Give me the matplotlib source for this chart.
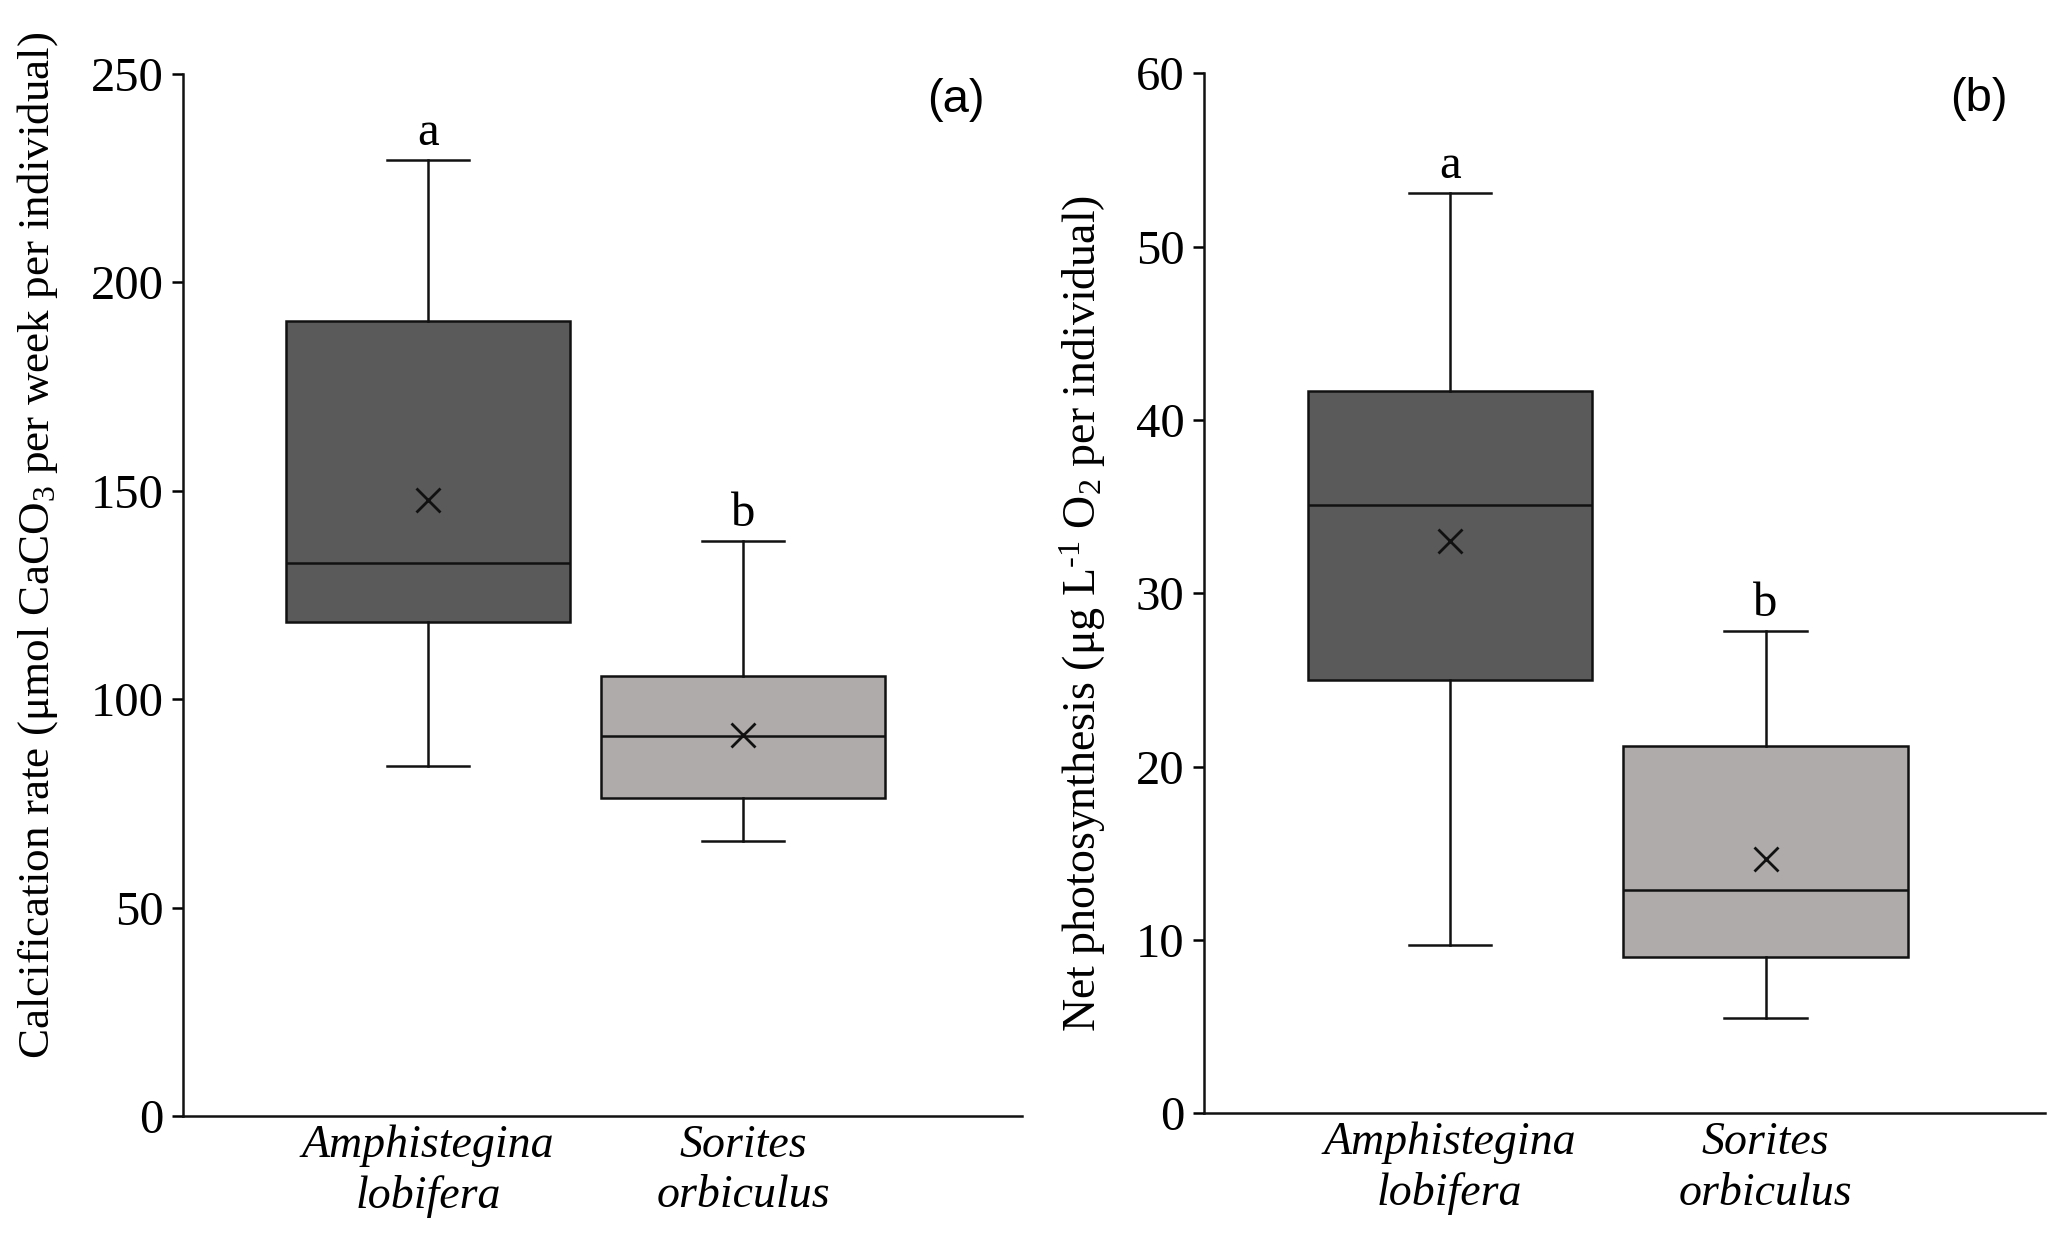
import matplotlib
matplotlib.use("Agg")
import matplotlib.pyplot as plt

plt.rcParams['font.family'] = ['Liberation Serif', 'DejaVu Serif']
plt.rcParams['mathtext.fontset'] = 'custom'
plt.rcParams['mathtext.rm'] = 'Liberation Serif'
plt.rcParams['mathtext.it'] = 'Liberation Serif:italic'

species = ["Amphistegina\nlobifera", "Sorites\norbiculus"]
box_colors = ["#5a5a5a", "#aeabaa"]
sig_letters = ["a", "b"]

# panel (a): calcification rate
calc_whislo = [83.9, 65.9]
calc_q1 = [118.5, 76.3]
calc_med = [132.7, 91.1]
calc_q3 = [190.8, 105.6]
calc_whishi = [229.3, 138.0]
calc_mean = [147.9, 91.4]

# panel (b): net photosynthesis
phot_whislo = [9.7, 5.5]
phot_q1 = [25.0, 9.0]
phot_med = [35.1, 12.9]
phot_q3 = [41.7, 21.2]
phot_whishi = [53.1, 27.8]
phot_mean = [33.0, 14.7]


def make_stats(lo, q1, med, q3, hi, mean):
    stats = []
    for i in range(len(species)):
        stats.append(dict(whislo=lo[i], q1=q1[i], med=med[i], q3=q3[i],
                          whishi=hi[i], mean=mean[i], fliers=[]))
    return stats


def draw_panel(ax, stats, ymax, step, tag, offset):
    lw = 1.8
    bp = ax.bxp(stats, positions=[1, 2], widths=0.9, patch_artist=True,
                showmeans=True, showfliers=False, capwidths=0.26,
                boxprops=dict(linewidth=lw, edgecolor="#111111"),
                medianprops=dict(color="#111111", linewidth=lw),
                whiskerprops=dict(color="#111111", linewidth=lw),
                capprops=dict(color="#111111", linewidth=lw),
                meanprops=dict(marker="x", markersize=17, markeredgewidth=2,
                               markeredgecolor="#111111"))
    for patch, col in zip(bp['boxes'], box_colors):
        patch.set_facecolor(col)

    for i, s in enumerate(stats):
        ax.text(i + 1, s['whishi'] + offset, sig_letters[i], ha='center',
                va='bottom', fontsize=35)

    ax.set_xlim(0.222, 2.885)
    ax.set_ylim(0, ymax)
    ax.set_yticks(range(0, ymax + 1, step))
    ax.set_xticks([1, 2])
    ax.set_xticklabels(species, fontstyle='italic', fontsize=33,
                       linespacing=1.25)
    ax.tick_params(axis='y', labelsize=35, length=8, width=1.8, pad=6)
    ax.tick_params(axis='x', length=0, pad=6)
    for side in ['top', 'right']:
        ax.spines[side].set_visible(False)
    for side in ['left', 'bottom']:
        ax.spines[side].set_linewidth(1.8)
        ax.spines[side].set_color("#111111")
    ax.text(0.955, 0.975, tag, transform=ax.transAxes, ha='right',
            va='center', fontsize=34, family='Liberation Sans')


fig = plt.figure(figsize=(20.5, 12.4), dpi=100)
ax1 = fig.add_axes([0.0893, 0.1, 0.4092, 0.8403])
ax2 = fig.add_axes([0.5873, 0.1022, 0.4103, 0.8386])

draw_panel(ax1, make_stats(calc_whislo, calc_q1, calc_med, calc_q3,
                           calc_whishi, calc_mean), 250, 50, "(a)", 1.2)
draw_panel(ax2, make_stats(phot_whislo, phot_q1, phot_med, phot_q3,
                           phot_whishi, phot_mean), 60, 10, "(b)", 0.3)

fig.text(0.0185, 0.56,
         "Calcification rate (\u03bcmol CaCO$_3$ per week per individual)",
         rotation=90, ha='center', va='center', fontsize=32.5)
fig.text(0.528, 0.505,
         "Net photosynthesis (\u03bcg L$^{\\text{-}1}$ O$_2$ per individual)",
         rotation=90, ha='center', va='center', fontsize=33)

fig.savefig("out.png", dpi=100)
